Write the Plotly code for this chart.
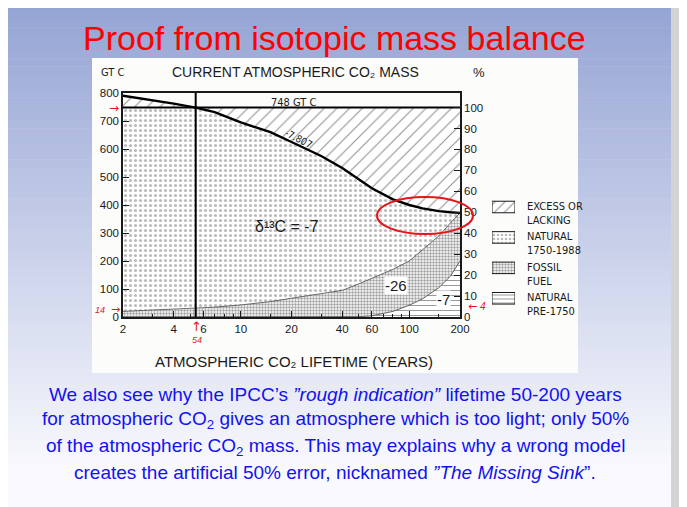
import numpy as np
import plotly.graph_objects as go

# the page body adds an 8px margin, so the figure is drawn 8px smaller
OFF = 8
W, H = 687 - OFF, 507 - OFF

# values (GT C against lifetime in years)
lifetime = [2, 3, 4, 5.4, 7, 10, 15, 20, 30, 40, 50, 60, 80, 100, 120, 150, 175, 200]
total_mass = [790, 775, 762, 748, 732, 695, 660, 625, 575, 532, 492, 460, 420, 400, 388, 378, 374, 372]
fossil_top = [20, 24, 27, 30, 35, 43, 55, 67, 82, 95, 118, 138, 170, 200, 240, 290, 335, 372]
pre1750_top = [0, 0, 0, 0, 0, 0, 0, 0, 0, 0, 1, 4, 20, 42, 65, 105, 145, 200]
current_mass = 748
marked_lifetime = 5.4

x_ticks = [2, 4, 6, 10, 20, 40, 60, 100, 200]
x_minor = [3, 5, 7, 8, 9, 15, 30, 50, 70, 80, 90, 150]
gt_ticks = list(range(0, 801, 100))
pct_ticks = list(range(0, 101, 10))

legend_labels = ["EXCESS OR<br>LACKING", "NATURAL<br>1750-1988", "FOSSIL<br>FUEL", "NATURAL<br>PRE-1750"]

body_lines = [
    "We also see why the IPCC’s <i>”rough indication”</i> lifetime 50-200 years",
    "for atmospheric CO<sub>2</sub> gives an atmosphere which is too light; only 50%",
    "of the atmospheric CO<sub>2</sub> mass. This may explains why a wrong model",
    "creates the artificial 50% error, nicknamed <i>”The Missing Sink</i>”.",
]

SANS = "Liberation Sans, Arial, sans-serif"
NARROW = "Liberation Sans Narrow, DejaVu Sans Condensed, Arial Narrow, sans-serif"
ARROWS = "DejaVu Sans, sans-serif"
INK = "#1a1a1a"
RED = "#e8141a"


# window pixel -> paper fraction
def px(x):
    return (x - OFF) / W


def py(y):
    return 1 - (y - OFF) / H


natural = np.minimum(total_mass, current_mass)
excess = np.maximum(total_mass, current_mass)

fig = go.Figure()

# stacked filled regions
fig.add_trace(go.Scatter(x=lifetime, y=[0] * len(lifetime), mode="lines",
                         line=dict(width=0), showlegend=False, hoverinfo="skip"))
fig.add_trace(go.Scatter(x=lifetime, y=pre1750_top, mode="none", fill="tonexty",
                         fillcolor="white",
                         fillpattern=dict(shape="-", fgcolor="#333", bgcolor="white", size=5, solidity=0.2),
                         showlegend=False))
fig.add_trace(go.Scatter(x=lifetime, y=fossil_top, mode="none", fill="tonexty",
                         fillcolor="white",
                         fillpattern=dict(shape=".", fgcolor="#444", bgcolor="white", size=3, solidity=0.5),
                         showlegend=False))
fig.add_trace(go.Scatter(x=lifetime, y=natural, mode="none", fill="tonexty",
                         fillcolor="white",
                         fillpattern=dict(shape=".", fgcolor="#777", bgcolor="white", size=5, solidity=0.32),
                         showlegend=False))
fig.add_trace(go.Scatter(x=lifetime, y=excess, mode="none", fill="tonexty",
                         fillcolor="white",
                         fillpattern=dict(shape="/", fgcolor="#222", bgcolor="white", size=9, solidity=0.12),
                         showlegend=False))

# boundary lines
fig.add_trace(go.Scatter(x=lifetime, y=pre1750_top, mode="lines",
                         line=dict(color="#444", width=0.8), showlegend=False))
fig.add_trace(go.Scatter(x=lifetime, y=fossil_top, mode="lines",
                         line=dict(color="#444", width=0.8), showlegend=False))
fig.add_trace(go.Scatter(x=lifetime, y=total_mass, mode="lines",
                         line=dict(color="black", width=2.4), showlegend=False))
fig.add_trace(go.Scatter(x=[lifetime[0], lifetime[-1]], y=[current_mass, current_mass], mode="lines",
                         line=dict(color="black", width=2), showlegend=False))
fig.add_trace(go.Scatter(x=[marked_lifetime, marked_lifetime], y=[0, gt_ticks[-1]], mode="lines",
                         line=dict(color="black", width=2), showlegend=False))
# percent axis carrier
fig.add_trace(go.Scatter(x=[lifetime[-1]], y=[50], yaxis="y2", mode="markers",
                         marker=dict(opacity=0), showlegend=False, hoverinfo="skip"))

# legend swatches
fig.add_trace(go.Bar(
    x=[1] * len(legend_labels), y=legend_labels, orientation="h", width=0.38,
    xaxis="x3", yaxis="y3", showlegend=False,
    marker=dict(color="white", line=dict(color=INK, width=1),
                pattern=dict(shape=["/", ".", ".", "-"], fgcolor=["#222", "#777", "#444", "#333"],
                             bgcolor="white", size=[7, 4, 3, 4], solidity=[0.15, 0.35, 0.5, 0.25])),
))

# background: slide gradient and white picture box
shapes = []
n_bands = 60
top_c = np.array([148, 164, 212])
bot_c = np.array([250, 250, 254])
y_start, y_end = 4, 470
shapes.append(dict(type="rect", xref="paper", yref="paper", x0=0, x1=px(671),
                   y0=0, y1=1, fillcolor="rgb(250,250,254)", line=dict(width=0), layer="below"))
for i in range(n_bands):
    y0 = y_start + (y_end - y_start) * i / n_bands
    y1 = y_start + (y_end - y_start) * (i + 1) / n_bands + 0.5
    c = top_c + (bot_c - top_c) * (i + 0.5) / n_bands
    shapes.append(dict(type="rect", xref="paper", yref="paper", x0=0, x1=px(671),
                       y0=py(y1), y1=min(1, py(y0)), fillcolor="rgb(%d,%d,%d)" % tuple(c.astype(int)),
                       line=dict(width=0), layer="below"))
shapes.append(dict(type="rect", xref="paper", yref="paper", x0=px(92), x1=px(578),
                   y0=py(373), y1=py(58), fillcolor="#fcfcfa", line=dict(width=0), layer="below"))
# red ellipse
shapes.append(dict(type="circle", xref="paper", yref="paper", x0=px(377), x1=px(473),
                   y0=py(234), y1=py(197), line=dict(color=RED, width=2)))

annotations = []


def note(text, x, y, size, color=INK, family=SANS, angle=0, bg=None, xanchor="center"):
    annotations.append(dict(text=text, x=px(x), y=py(y), xref="paper", yref="paper",
                            showarrow=False, textangle=angle, xanchor=xanchor, yanchor="middle",
                            font=dict(size=size, color=color, family=family),
                            bgcolor=bg, borderpad=0))


note("Proof from isotopic mass balance", 334, 38, 34, color="#ff0000")
for i, line in enumerate(body_lines):
    note(line, 335, 394 + 26.3 * i, 19, color="#1212f2")

note("GT C", 112, 72, 11, family=NARROW)
note("CURRENT ATMOSPHERIC CO₂ MASS", 295, 72, 14)
note("%", 479, 72, 13)
note("ATMOSPHERIC CO₂ LIFETIME (YEARS)", 294, 361, 15)
note("748 GT C", 293, 103, 11, family=NARROW)
note("-7.807", 298, 139, 10, family=NARROW, angle=27)
note("δ¹³C = -7", 287, 226, 16)
note("-26", 396, 285, 15, bg="white")
note("-7", 443, 299, 15, bg="white")

# red hand-written marks
note("→", 114, 108, 12, color=RED, family=ARROWS)
note("<i>14</i>", 100, 310, 9, color=RED)
note("→", 115, 309, 11, color=RED, family=ARROWS)
note("↑", 196, 326, 13, color=RED, family=ARROWS)
note("<i>54</i>", 197, 340, 9, color=RED)
note("←", 472, 306, 11, color=RED, family=ARROWS)
note("<i>4</i>", 483, 306, 10, color=RED)

# legend texts beside the swatches
for lab in legend_labels:
    annotations.append(dict(text=lab, x=1, y=lab, xref="x3 domain", yref="y3", xshift=10,
                            yshift=-6.5, showarrow=False, xanchor="left", yanchor="middle", align="left",
                            font=dict(size=11, color=INK, family=NARROW)))

tick_font = dict(size=11.5, color=INK, family=SANS)

fig.update_layout(
    width=W, height=H,
    margin=dict(l=0, r=0, t=0, b=0, autoexpand=False),
    paper_bgcolor="#d4d4d4",
    plot_bgcolor="rgba(0,0,0,0)",
    showlegend=False,
    shapes=shapes,
    annotations=annotations,
    xaxis=dict(type="log", domain=[px(123), px(460)], range=[np.log10(2), np.log10(200)],
               tickvals=x_ticks, ticktext=[str(v) for v in x_ticks], ticks="inside", ticklen=6,
               tickcolor=INK, showline=True, linecolor=INK, linewidth=1.5, mirror=True,
               showgrid=False, zeroline=False, tickfont=tick_font,
               minor=dict(tickvals=x_minor, ticks="inside", ticklen=3, tickcolor=INK)),
    yaxis=dict(domain=[py(317), py(93)], range=[0, 800], tickvals=gt_ticks, ticks="inside",
               ticklen=6, tickcolor=INK, showline=True, linecolor=INK, linewidth=1.5, mirror=True,
               showgrid=False, zeroline=False, tickfont=tick_font),
    yaxis2=dict(overlaying="y", side="right", range=[0, 800 * 100 / current_mass],
                tickvals=pct_ticks, ticks="inside", ticklen=6, tickcolor=INK, showline=True,
                linecolor=INK, linewidth=1.5, showgrid=False, zeroline=False, tickfont=tick_font),
    xaxis3=dict(domain=[px(492), px(515)], range=[0, 1], anchor="y3", visible=False),
    yaxis3=dict(domain=[py(313.5), py(185)], anchor="x3", type="category", autorange="reversed",
                visible=False),
)

fig.write_html("out.html")
